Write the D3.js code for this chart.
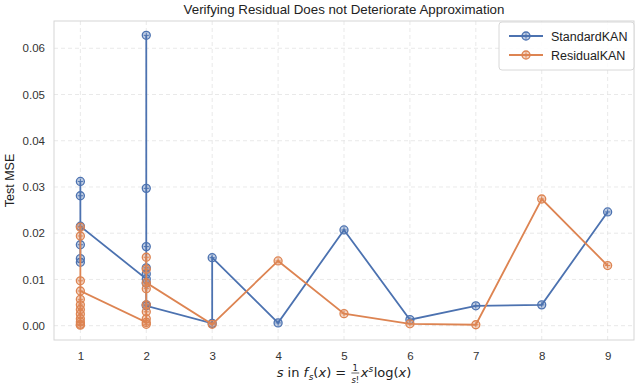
<!DOCTYPE html>
<html><head><meta charset="utf-8">
<script src="https://cdn.jsdelivr.net/npm/d3@7"></script>
<style>body{margin:0;background:#fff}svg{display:block}</style>
</head><body>
<script>
const title = "Verifying Residual Does not Deteriorate Approximation";
const yLabel = "Test MSE";
const seriesNames = ["StandardKAN", "ResidualKAN"];
const seriesColors = ["#4c72b0", "#dd8452"];
const xTicks = [1,2,3,4,5,6,7,8,9];
const yTicks = [0,0.01,0.02,0.03,0.04,0.05,0.06];
// points in plotting order (x, test MSE)
const standardX = [1,1,1,1,1,1, 2,2,2,2,2,2,2,2,2, 3,3, 4,5,6,7,8,9];
const standardY = [0.0312,0.0281,0.0175,0.0145,0.0137,0.0215,
  0.0101,0.0628,0.0297,0.0171,0.0125,0.0112,0.0092,0.0045,0.0043,
  0.0005,0.0147, 0.0006,0.0207,0.0013,0.0043,0.0045,0.0246];
const residualX = [1,1,1,1,1,1,1,1,1,1,1,1, 2,2,2,2,2,2,2,2,2, 3,4,5,6,7,8,9];
const residualY = [0.0213,0.0194,0.0097,0.0057,0.0045,0.0035,0.0025,0.0015,0.0008,0.0003,0.0001,0.0075,
  0.0007,0.0148,0.0122,0.0080,0.0045,0.0030,0.0015,0.0003,0.0093,
  0.0003,0.0140,0.0026,0.0004,0.0002,0.0274,0.0130];

const W=640,H=387;
const m={l:54,r:6,t:21,b:47};
const svg=d3.select("body").append("svg").attr("width",W).attr("height",H);
const x=d3.scaleLinear().domain([0.6,9.4]).range([m.l,W-m.r]);
const y=d3.scaleLinear().domain([-0.0031,0.0659]).range([H-m.b,m.t]);
const font="'Liberation Sans', Arial, sans-serif";

// grid
const g=svg.append("g");
g.selectAll(".vg").data(xTicks).join("line").attr("x1",d=>x(d)).attr("x2",d=>x(d))
 .attr("y1",m.t).attr("y2",H-m.b).attr("stroke","#e3e3e3").attr("stroke-width",0.8).attr("stroke-dasharray","4,3");
g.selectAll(".hg").data(yTicks).join("line").attr("y1",d=>y(d)).attr("y2",d=>y(d))
 .attr("x1",m.l).attr("x2",W-m.r).attr("stroke","#e3e3e3").attr("stroke-width",0.8).attr("stroke-dasharray","4,3");
svg.append("rect").attr("x",m.l).attr("y",m.t).attr("width",W-m.r-m.l).attr("height",H-m.b-m.t)
 .attr("fill","none").attr("stroke","#d5d5d5").attr("stroke-width",1);

// axes (labels only)
const xa=svg.append("g").attr("transform",`translate(0,${H-m.b})`)
 .call(d3.axisBottom(x).tickValues(xTicks).tickFormat(d3.format("d")).tickSize(0).tickPadding(12));
const ya=svg.append("g").attr("transform",`translate(${m.l},0)`)
 .call(d3.axisLeft(y).tickValues(yTicks).tickFormat(d3.format(".2f")).tickSize(0).tickPadding(9));
[xa,ya].forEach(a=>{a.select(".domain").remove();a.selectAll("text").attr("font-family",font).attr("font-size",11.5).attr("fill","#333");});

// series
const line=d3.line().x(d=>x(d[0])).y(d=>y(d[1]));
function marker(sel,color){
  sel.append("circle").attr("r",4).attr("fill",color).attr("fill-opacity",0.35).attr("stroke",color).attr("stroke-width",1.3);
  sel.append("path").attr("d","M-2.6,0H2.6M0,-2.6V2.6").attr("stroke",color).attr("stroke-width",1);
}
[[standardX,standardY],[residualX,residualY]].forEach(([xs,ys],i)=>{
  const pts=xs.map((v,j)=>[v,ys[j]]);
  const c=seriesColors[i];
  svg.append("path").datum(pts).attr("d",line).attr("fill","none").attr("stroke",c).attr("stroke-width",1.8);
  svg.append("g").selectAll("g").data(pts).join("g").attr("transform",d=>`translate(${x(d[0])},${y(d[1])})`).each(function(){marker(d3.select(this),c);});
});

// legend
const lg=svg.append("g").attr("transform","translate(499,22)");
lg.append("rect").attr("width",135).attr("height",48).attr("rx",3).attr("fill","#fff").attr("fill-opacity",0.85).attr("stroke","#d8d8d8");
seriesNames.forEach((n,i)=>{
  const yy=14+i*19,c=seriesColors[i];
  lg.append("line").attr("x1",10).attr("x2",44).attr("y1",yy).attr("y2",yy).attr("stroke",c).attr("stroke-width",1.8);
  const mg=lg.append("g").attr("transform",`translate(27,${yy})`); marker(mg,c);
  lg.append("text").attr("x",52).attr("y",yy+4.5).text(n).attr("font-family",font).attr("font-size",12.5).attr("fill","#222");
});

// title
svg.append("text").attr("x",(m.l+W-m.r)/2).attr("y",14).attr("text-anchor","middle")
 .attr("font-family",font).attr("font-size",13.3).attr("fill","#222").text(title);
// y label
svg.append("text").attr("transform",`translate(14,${(m.t+H-m.b)/2}) rotate(-90)`).attr("text-anchor","middle")
 .attr("font-family",font).attr("font-size",12.5).attr("fill","#222").text(yLabel);

// x label (math)
const mf="'DejaVu Sans', sans-serif";
const xl=svg.append("g");
let cx=0; const base=0;
function piece(t,opt={}){
  const el=xl.append("text").attr("x",cx).attr("y",base+(opt.dy||0)).text(t)
    .attr("font-family",mf).attr("font-size",opt.size||13).attr("fill","#222")
    .attr("font-style",opt.it?"italic":"normal").attr("xml:space","preserve").style("white-space","pre");
  cx+=el.node().getComputedTextLength()+(opt.pad||0);
  return el;
}
piece("s",{it:1}); piece(" in ",{}); piece("f",{it:1,pad:0.5}); piece("s",{it:1,size:9,dy:3});
piece("(",{}); piece("x",{it:1}); piece(")",{}); piece(" = ",{});
{ // fraction
  const x0=cx+1;
  const t1=xl.append("text").attr("y",base-6).text("1").attr("font-family",mf).attr("font-size",8.5).attr("fill","#222");
  const t2=xl.append("text").attr("y",base+6).attr("font-family",mf).attr("font-size",8.5).attr("fill","#222");
  t2.append("tspan").attr("font-style","italic").text("s"); t2.append("tspan").text("!");
  const w=Math.max(t1.node().getComputedTextLength(),t2.node().getComputedTextLength());
  t1.attr("x",x0+(w-t1.node().getComputedTextLength())/2);
  t2.attr("x",x0+(w-t2.node().getComputedTextLength())/2);
  xl.append("line").attr("x1",x0).attr("x2",x0+w).attr("y1",base-4).attr("y2",base-4).attr("stroke","#222").attr("stroke-width",0.7);
  cx=x0+w+1.5;
}
piece("x",{it:1}); piece("s",{it:1,size:9,dy:-5,pad:0.5}); piece("log",{}); piece("(",{}); piece("x",{it:1}); piece(")",{});
xl.attr("transform",`translate(${(m.l+W-m.r)/2-cx/2},${377})`);
</script>
</body></html>
